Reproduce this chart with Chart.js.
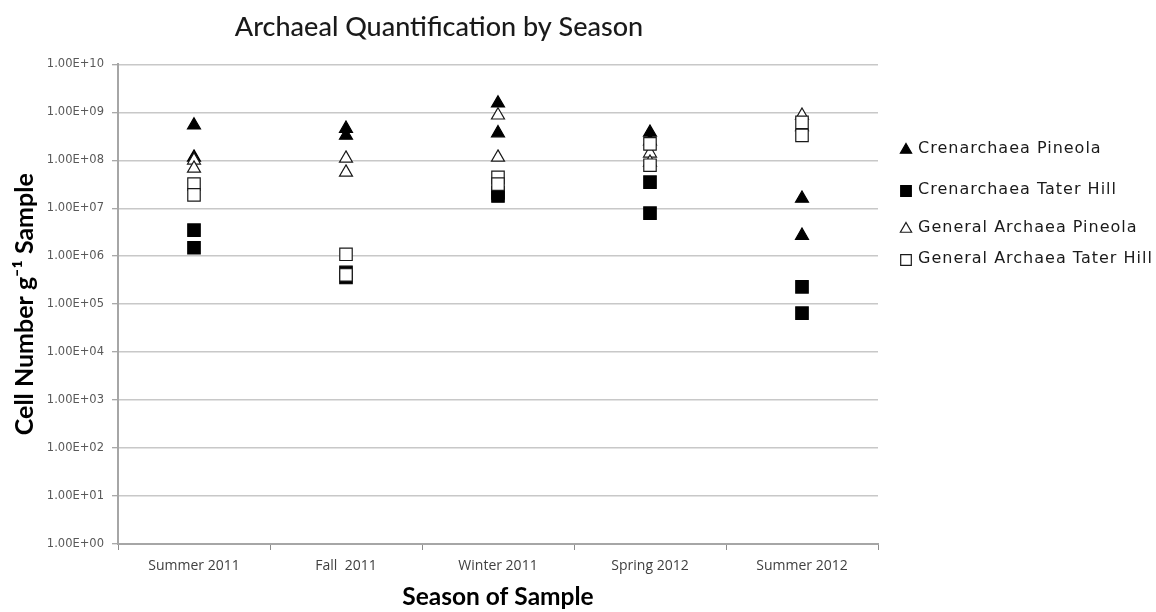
<!DOCTYPE html>
<html>
<head>
<meta charset="utf-8">
<script src="https://cdn.jsdelivr.net/npm/chart.js@4.4.1/dist/chart.umd.min.js"></script>
<style>
  html, body { margin: 0; padding: 0; background: #ffffff; }
  #wrap { width: 1156px; height: 612px; }
</style>
</head>
<body>
<div id="wrap"><canvas id="c" width="1156" height="612"></canvas></div>
<script>
// Sampling seasons (x categories)
const seasons = ['Summer 2011', 'Fall  2011', 'Winter 2011', 'Spring 2012', 'Summer 2012'];

// Cell numbers per gram of sample, two replicates per season
const crenPineola   = [[5.4e8, 1.15e8], [4.6e8, 3.3e8], [1.55e9, 3.7e8], [3.8e8, 2.5e8], [1.6e7, 2.7e6]];
const crenTaterHill = [[3.5e6, 1.5e6],  [4.6e5, 3.6e5], [2.1e7, 1.8e7],  [3.5e7, 7.9e6], [2.3e5, 6.5e4]];
const genPineola    = [[1.0e8, 6.8e7],  [1.1e8, 5.6e7], [8.7e8, 1.15e8], [1.4e8, 9.0e7], [8.6e8, 5.0e8]];
const genTaterHill  = [[3.2e7, 1.9e7],  [1.1e6, 4.1e5], [4.4e7, 3.2e7],  [2.2e8, 7.9e7], [6.2e8, 3.3e8]];

// Series names shown in the legend
const seriesNames = ['Crenarchaea Pineola', 'Crenarchaea Tater Hill', 'General Archaea Pineola', 'General Archaea Tater Hill'];

// Powers of ten used for the y-axis ticks
const yExponents = [0, 1, 2, 3, 4, 5, 6, 7, 8, 9, 10];

function toPoints(values) {
  const pts = [];
  values.forEach((pair, i) => pair.forEach(v => pts.push({ x: seasons[i], y: v })));
  return pts;
}

const styles = [
  { pointStyle: 'triangle', radius: 7.5, fill: '#000000', border: '#000000' },
  { pointStyle: 'rect',     radius: 8.8, fill: '#000000', border: '#000000' },
  { pointStyle: 'triangle', radius: 7.5, fill: '#ffffff', border: '#1a1a1a' },
  { pointStyle: 'rect',     radius: 8.8, fill: '#ffffff', border: '#1a1a1a' }
];
const seriesValues = [crenPineola, crenTaterHill, genPineola, genTaterHill];

// later series sit on top of earlier ones
const datasets = seriesValues.map((vals, k) => ({
  label: seriesNames[k],
  data: toPoints(vals),
  order: seriesValues.length - k,
  showLine: false,
  pointStyle: styles[k].pointStyle,
  pointRadius: styles[k].radius,
  pointHoverRadius: styles[k].radius,
  pointBackgroundColor: styles[k].fill,
  pointBorderColor: styles[k].border,
  pointBorderWidth: 1.2,
  backgroundColor: styles[k].fill,
  borderColor: styles[k].border
}));

// Legend drawn at the right of the plot with Excel-like spacing
const sideLegend = {
  id: 'sideLegend',
  afterDraw(chart) {
    const ctx = chart.ctx;
    const rows = [149, 190, 228, 259];
    ctx.save();
    seriesNames.forEach((name, i) => {
      const y = rows[i];
      const st = styles[i];
      ctx.fillStyle = st.fill;
      ctx.strokeStyle = st.border;
      ctx.lineWidth = 1.2;
      Chart.helpers.drawPoint(ctx, {
        pointStyle: st.pointStyle,
        radius: st.pointStyle === 'rect' ? 7.5 : 6.5,
        rotation: 0,
        borderWidth: 1.2
      }, 906, y + 1);
      ctx.fillStyle = '#1a1a1a';
      ctx.font = '16px "DejaVu Sans"';
      ctx.letterSpacing = '1px';
      ctx.textBaseline = 'middle';
      ctx.textAlign = 'left';
      ctx.fillText(name, 918, y);
      ctx.letterSpacing = '0px';
    });
    ctx.restore();
  }
};

new Chart(document.getElementById('c'), {
  type: 'line',
  data: { labels: seasons, datasets },
  plugins: [sideLegend],
  options: {
    responsive: false,
    animation: false,
    layout: { padding: { left: 0, right: 278, top: 0, bottom: 0 } },
    plugins: {
      legend: { display: false },
      tooltip: { enabled: false },
      title: {
        display: true,
        text: 'Archaeal Quantification by Season',
        color: '#1a1a1a',
        font: { family: 'Lato', size: 27, weight: '500', lineHeight: 1.2 },
        padding: { top: 11, bottom: 21 }
      }
    },
    scales: {
      x: {
        type: 'category',
        offset: true,
        border: { display: true, color: '#a6a6a6', width: 2 },
        grid: { offset: true, drawOnChartArea: false, drawTicks: true, tickLength: 6, color: '#8c8c8c' },
        ticks: { color: '#404040', font: { family: 'Open Sans', size: 14 }, padding: 8 },
        title: {
          display: true,
          text: 'Season of Sample',
          color: '#000000',
          font: { family: 'Lato', size: 24.5, weight: 'bold' },
          padding: { top: 4, bottom: 0 }
        },
        afterFit(scale) { scale.height = 68; }
      },
      y: {
        type: 'logarithmic',
        min: 1,
        max: 1e10,
        border: { display: true, color: '#a6a6a6', width: 2 },
        grid: { color: '#c8c8c8', lineWidth: 1.5, tickLength: 6, tickColor: '#8c8c8c', tickWidth: 1 },
        afterBuildTicks(scale) {
          scale.ticks = yExponents.map(e => ({ value: Math.pow(10, e) }));
        },
        ticks: {
          color: '#595959',
          font: { family: 'DejaVu Sans', size: 11.5 },
          padding: 8,
          callback(value) {
            const e = Math.round(Math.log10(value));
            return '1.00E+' + String(e).padStart(2, '0');
          }
        },
        title: {
          display: true,
          text: 'Cell Number g\u207B\u00B9 Sample',
          color: '#000000',
          font: { family: 'Lato', size: 25, weight: 'bold' },
          padding: { top: 10, bottom: 4 }
        },
        afterFit(scale) { scale.width = 118; }
      }
    }
  }
});
</script>
</body>
</html>
